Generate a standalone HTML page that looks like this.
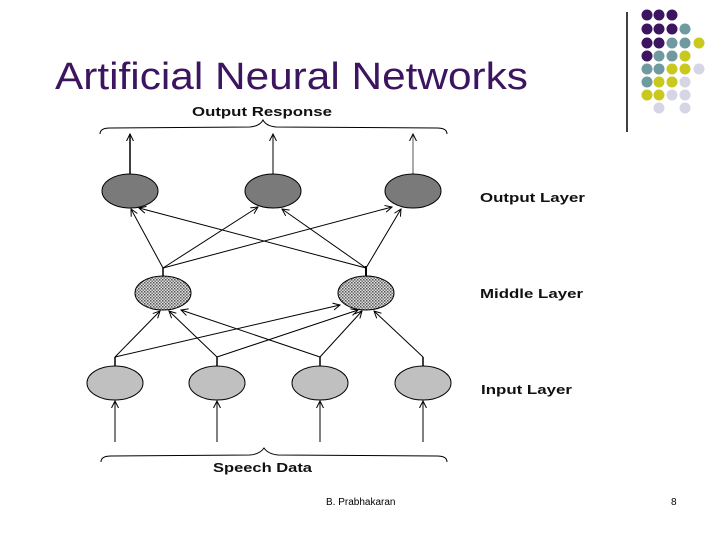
<!DOCTYPE html>
<html><head><style>
html,body{margin:0;padding:0;background:#fff;width:720px;height:540px;overflow:hidden}
svg{display:block}
</style></head><body>
<svg width="720" height="540" viewBox="0 0 720 540" xmlns="http://www.w3.org/2000/svg" font-family="Liberation Sans, sans-serif">
<defs>
<pattern id="hat" width="3" height="3" patternUnits="userSpaceOnUse">
<rect width="3" height="3" fill="#e0e0e0"/><rect width="1.5" height="1.5" fill="#555"/><rect x="1.5" y="1.5" width="1.5" height="1.5" fill="#777"/>
</pattern>
<marker id="ar" markerWidth="8" markerHeight="8" refX="7" refY="4" orient="auto" markerUnits="userSpaceOnUse">
<path d="M0,0.5 L7,4 L0,7.5" fill="none" stroke="#000" stroke-width="1"/>
</marker>
</defs>
<text x="55" y="89" font-size="38" fill="#3d1460" textLength="473" lengthAdjust="spacingAndGlyphs">Artificial Neural Networks</text>
<line x1="627" y1="12" x2="627" y2="132" stroke="#000" stroke-width="1.5"/>
<g>
<circle cx="647" cy="15" r="5.5" fill="#3d1460"/><circle cx="659" cy="15" r="5.5" fill="#3d1460"/><circle cx="672" cy="15" r="5.5" fill="#3d1460"/>
<circle cx="647" cy="29" r="5.5" fill="#3d1460"/><circle cx="659" cy="29" r="5.5" fill="#3d1460"/><circle cx="672" cy="29" r="5.5" fill="#3d1460"/><circle cx="685" cy="29" r="5.5" fill="#6f9aa0"/>
<circle cx="647" cy="43" r="5.5" fill="#3d1460"/><circle cx="659" cy="43" r="5.5" fill="#3d1460"/><circle cx="672" cy="43" r="5.5" fill="#6f9aa0"/><circle cx="685" cy="43" r="5.5" fill="#6f9aa0"/><circle cx="699" cy="43" r="5.5" fill="#c8c81e"/>
<circle cx="647" cy="56" r="5.5" fill="#3d1460"/><circle cx="659" cy="56" r="5.5" fill="#6f9aa0"/><circle cx="672" cy="56" r="5.5" fill="#6f9aa0"/><circle cx="685" cy="56" r="5.5" fill="#c8c81e"/>
<circle cx="647" cy="69" r="5.5" fill="#6f9aa0"/><circle cx="659" cy="69" r="5.5" fill="#6f9aa0"/><circle cx="672" cy="69" r="5.5" fill="#c8c81e"/><circle cx="685" cy="69" r="5.5" fill="#c8c81e"/><circle cx="699" cy="69" r="5.5" fill="#d5d5e5"/>
<circle cx="647" cy="82" r="5.5" fill="#6f9aa0"/><circle cx="659" cy="82" r="5.5" fill="#c8c81e"/><circle cx="672" cy="82" r="5.5" fill="#c8c81e"/><circle cx="685" cy="82" r="5.5" fill="#d5d5e5"/>
<circle cx="647" cy="95" r="5.5" fill="#c8c81e"/><circle cx="659" cy="95" r="5.5" fill="#c8c81e"/><circle cx="672" cy="95" r="5.5" fill="#d5d5e5"/><circle cx="685" cy="95" r="5.5" fill="#d5d5e5"/>
<circle cx="659" cy="108" r="5.5" fill="#d5d5e5"/><circle cx="685" cy="108" r="5.5" fill="#d5d5e5"/>
</g>
<g font-weight="bold" font-size="13" fill="#111" lengthAdjust="spacingAndGlyphs">
<text x="192" y="116" textLength="140" lengthAdjust="spacingAndGlyphs">Output Response</text>
<text x="213" y="472" textLength="99" lengthAdjust="spacingAndGlyphs">Speech Data</text>
<text x="480" y="202" textLength="105" lengthAdjust="spacingAndGlyphs">Output Layer</text>
<text x="480" y="298" textLength="103" lengthAdjust="spacingAndGlyphs">Middle Layer</text>
<text x="481" y="394" textLength="91" lengthAdjust="spacingAndGlyphs">Input Layer</text>
</g>
<g fill="none" stroke="#000" stroke-width="1">
<path d="M100,134 Q100,128 110,128 L250,127 Q260,126 263,120 Q266,126 276,127 L437,128 Q447,128 447,134"/>
<path d="M101,462 Q101,456 111,456 L250,455 Q260,454 264,448 Q268,454 278,455 L437,456 Q447,456 447,462"/>
</g>
<g stroke="#000" stroke-width="1" fill="none" marker-end="url(#ar)">
<line x1="130" y1="174" x2="130" y2="134" stroke-width="1.5"/>
<line x1="273" y1="174" x2="273" y2="134"/>
<line x1="413" y1="174" x2="413" y2="134" stroke="#555"/>
<line x1="163" y1="268" x2="131" y2="209"/>
<line x1="163" y1="268" x2="258" y2="207"/>
<line x1="163" y1="268" x2="392" y2="207"/>
<line x1="366" y1="268" x2="139" y2="208"/>
<line x1="366" y1="268" x2="282" y2="209"/>
<line x1="366" y1="268" x2="401" y2="209"/>
<line x1="115" y1="357" x2="160" y2="311"/>
<line x1="115" y1="357" x2="340" y2="305"/>
<line x1="217" y1="357" x2="169" y2="311"/>
<line x1="217" y1="357" x2="358" y2="310"/>
<line x1="320" y1="357" x2="181" y2="310"/>
<line x1="320" y1="357" x2="362" y2="311"/>
<line x1="423" y1="357" x2="374" y2="311"/>
<line x1="115" y1="442" x2="115" y2="401"/>
<line x1="217" y1="442" x2="217" y2="401"/>
<line x1="320" y1="442" x2="320" y2="401"/>
<line x1="423" y1="442" x2="423" y2="401"/>
</g>
<g stroke="#000" stroke-width="1.5">
<line x1="163" y1="268" x2="163" y2="276"/><line x1="366" y1="266" x2="366" y2="276" stroke-width="2"/>
<line x1="115" y1="357" x2="115" y2="366"/><line x1="217" y1="357" x2="217" y2="366"/>
<line x1="320" y1="357" x2="320" y2="366"/><line x1="423" y1="357" x2="423" y2="366"/>
</g>
<g stroke="#000" stroke-width="1">
<ellipse cx="130" cy="191" rx="28" ry="17" fill="#7a7a7a"/>
<ellipse cx="273" cy="191" rx="28" ry="17" fill="#7a7a7a"/>
<ellipse cx="413" cy="191" rx="28" ry="17" fill="#7a7a7a"/>
<ellipse cx="163" cy="293" rx="28" ry="17" fill="url(#hat)"/>
<ellipse cx="366" cy="293" rx="28" ry="17" fill="url(#hat)"/>
<ellipse cx="115" cy="383" rx="28" ry="17" fill="#c0c0c0"/>
<ellipse cx="217" cy="383" rx="28" ry="17" fill="#c0c0c0"/>
<ellipse cx="320" cy="383" rx="28" ry="17" fill="#c0c0c0"/>
<ellipse cx="423" cy="383" rx="28" ry="17" fill="#c0c0c0"/>
</g>
<text x="326" y="505" font-size="10" fill="#000">B. Prabhakaran</text>
<text x="671" y="505" font-size="10" fill="#000">8</text>
</svg>
</body></html>
